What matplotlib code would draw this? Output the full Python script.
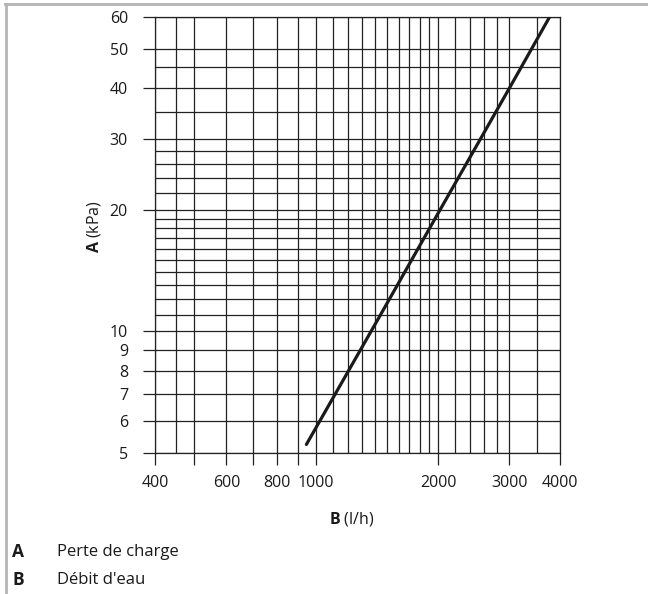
import matplotlib.pyplot as plt
from matplotlib.lines import Line2D
from matplotlib.ticker import FixedLocator, FixedFormatter, NullFormatter

plt.rcParams['font.family'] = ['Open Sans', 'DejaVu Sans']
plt.rcParams['mathtext.fontset'] = 'custom'
plt.rcParams['mathtext.rm'] = 'Open Sans'
plt.rcParams['mathtext.bf'] = 'Open Sans:bold'

# courbe de perte de charge
debit = [946, 1435, 2000, 3000, 3770]        # l/h
perte = [5.25, 10.9, 19.6, 40.0, 60.0]       # kPa

# graduations
x_major = [400, 500, 600, 700, 800, 900, 1000, 2000, 3000, 4000]
x_labels = ['400', '', '600', '', '800', '', '1000', '2000', '3000', '4000']
x_minor = [450, 1100, 1200, 1300, 1400, 1500, 1600, 1700, 1800, 1900,
           2200, 2400, 2600, 2800, 3500]
y_major = [5, 6, 7, 8, 9, 10, 20, 30, 40, 50, 60]
y_labels = [str(v) for v in y_major]
y_minor = [11, 12, 13, 14, 15, 16, 17, 18, 19, 22, 24, 26, 28, 35, 45]

W, H = 648, 594
fs = 11.5
txt_c = '#1a1a1a'
fig = plt.figure(figsize=(W / 100, H / 100), dpi=100)
ax = fig.add_axes([155 / W, 1 - 453 / H, 405 / W, 436 / H])

grid_c = '#222222'
ax.set_xscale('log')
ax.set_yscale('log')
ax.set_xlim(400, 4000)
ax.set_ylim(5, 60)

ax.xaxis.set_major_locator(FixedLocator(x_major))
ax.xaxis.set_major_formatter(FixedFormatter(x_labels))
ax.xaxis.set_minor_locator(FixedLocator(x_minor))
ax.xaxis.set_minor_formatter(NullFormatter())
ax.yaxis.set_major_locator(FixedLocator(y_major))
ax.yaxis.set_major_formatter(FixedFormatter(y_labels))
ax.yaxis.set_minor_locator(FixedLocator(y_minor))
ax.yaxis.set_minor_formatter(NullFormatter())

ax.tick_params(which='major', direction='out', length=8.5, width=0.9,
               color=grid_c, labelsize=fs, labelcolor=txt_c)
ax.tick_params(axis='x', which='major', pad=7)
ax.tick_params(axis='y', which='major', pad=11)
ax.tick_params(which='minor', length=0)

ax.grid(True, which='both', color=grid_c, lw=0.9)
for s in ax.spines.values():
    s.set_color(grid_c)
    s.set_linewidth(0.9)

ax.plot(debit, perte, color=txt_c, lw=2.3, solid_capstyle='round', zorder=5)

ax.set_xlabel(r'$\mathbf{B}$ (l/h)', fontsize=fs, color=txt_c)
ax.xaxis.set_label_coords(0.485, -0.13)
ax.set_ylabel(r'$\mathbf{A}$ (kPa)', fontsize=fs, color=txt_c)
ax.yaxis.set_label_coords(-0.128, 0.52)

# légende texte en bas
for lettre, texte, y in [('A', 'Perte de charge', 552), ('B', "Débit d'eau", 580)]:
    fig.text(12 / W, 1 - y / H, lettre, fontsize=12.5, fontweight='bold',
             va='center', ha='left', color=txt_c)
    fig.text(57 / W, 1 - y / H, texte, fontsize=fs + 0.5,
             va='center', ha='left', color=txt_c)

# cadre gris (gauche et haut)
fig.add_artist(Line2D([6 / W, 6 / W], [0, 1 - 4 / H], transform=fig.transFigure,
                      color='#b4b4b4', lw=2))
fig.add_artist(Line2D([5 / W, 1], [1 - 4 / H, 1 - 4 / H], transform=fig.transFigure,
                      color='#b4b4b4', lw=2))

fig.savefig('out.png', dpi=100)
